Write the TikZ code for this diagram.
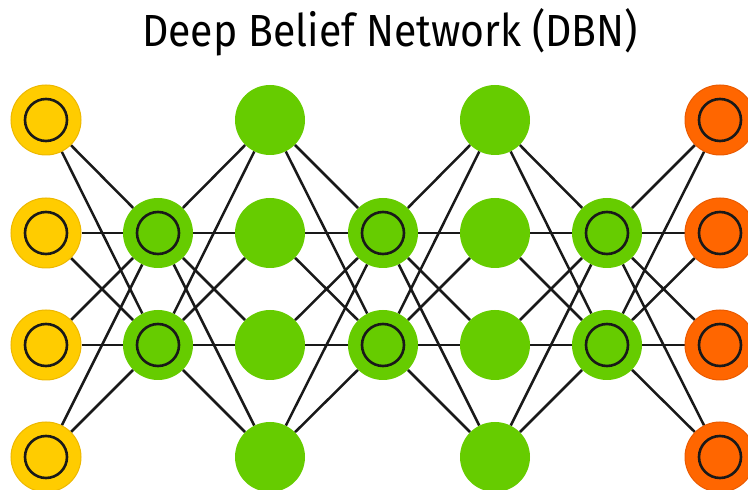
\documentclass[tikz,border=0pt]{standalone}
\usepackage{fontspec}
\setmainfont{Fira Sans}
\usetikzlibrary{backgrounds}
\definecolor{inyel}{HTML}{FFCC00}
\definecolor{inyeldark}{HTML}{EDB800}
\definecolor{hidgreen}{HTML}{66CC00}
\definecolor{outorange}{HTML}{FF6600}
\definecolor{outorangedark}{HTML}{EA5A00}
\tikzset{
  unit/.style={circle, minimum size=70pt, inner sep=0pt},
  ring/.style={path picture={\draw[line width=2.6pt, black!90] (path picture bounding box.center) circle (21pt);}},
  inunit/.style={unit, ring, fill=inyel, draw=inyeldark, line width=1pt},
  hidunit/.style={unit, ring, fill=hidgreen},
  plainunit/.style={unit, fill=hidgreen},
  outunit/.style={unit, ring, fill=outorange, draw=outorangedark, line width=1pt},
  wire/.style={line width=2.5pt, black!90},
}
\begin{document}
\begin{tikzpicture}[x=1pt,y=1pt]
\useasboundingbox (0,0) rectangle (748,490);
\node[anchor=base] (title) at (390,443) {\fontsize{45}{52}\selectfont\scalebox{0.91}[1]{Deep Belief Network (DBN)}};
% rows: y_px 120,233,345,457 -> 370,257,145,33
\foreach \i/\y in {1/370,2/257,3/145,4/33}{
  \node[inunit] (a\i) at (46,\y) {};
  \node[plainunit] (c\i) at (270,\y) {};
  \node[plainunit] (e\i) at (495,\y) {};
  \node[outunit] (g\i) at (720,\y) {};
}
\foreach \i/\y in {1/257,2/145}{
  \node[hidunit] (b\i) at (158,\y) {};
  \node[hidunit] (d\i) at (383,\y) {};
  \node[hidunit] (f\i) at (607,\y) {};
}
\begin{pgfonlayer}{background}
\foreach \i in {1,...,4}{
  \foreach \j in {1,2}{
    \draw[wire] (a\i) -- (b\j);
    \draw[wire] (b\j) -- (c\i);
    \draw[wire] (c\i) -- (d\j);
    \draw[wire] (d\j) -- (e\i);
    \draw[wire] (e\i) -- (f\j);
    \draw[wire] (f\j) -- (g\i);
  }
}
\end{pgfonlayer}
\end{tikzpicture}
\end{document}
